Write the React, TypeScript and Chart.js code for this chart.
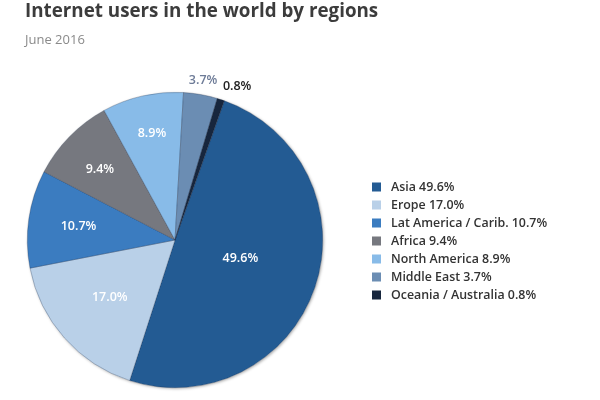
import React, { useEffect, useRef } from "react";
import { Chart, registerables } from "chart.js";

Chart.register(...registerables);

const regions = [
  "Asia",
  "Erope",
  "Lat America / Carib.",
  "Africa",
  "North America",
  "Middle East",
  "Oceania / Australia",
];
const shares = [49.6, 17.0, 10.7, 9.4, 8.9, 3.7, 0.8];
const colors = ["#235b93", "#b9d0e8", "#3b7cc0", "#76787f", "#88bbe8", "#6b8db3", "#17263d"];
const titleText = "Internet users in the world by regions";
const subtitleText = "June 2016";

// label styling (positions relative to radius, colours)
const labelRadius = [0.46, 0.59, 0.66, 0.7, 0.74, 1.1, 1.12];
const labelAngleNudge = [-3, 0, 0, -1, 0.5, 0, 4];
const labelColors = ["#ffffff", "#ffffff", "#ffffff", "#ffffff", "#ffffff", "#6d7b97", "#222222"];

const FONT = "'Open Sans', 'DejaVu Sans', sans-serif";

const decorPlugin = {
  id: "decor",
  beforeDatasetsDraw(chart: any) {
    const ctx = chart.ctx;
    ctx.save();
    ctx.shadowColor = "rgba(0,0,0,0.35)";
    ctx.shadowBlur = 3;
    ctx.shadowOffsetX = 1;
    ctx.shadowOffsetY = 1;
    const meta = chart.getDatasetMeta(0);
    const a0 = meta.data[0];
    ctx.beginPath();
    ctx.arc(a0.x, a0.y, a0.outerRadius, 0, Math.PI * 2);
    ctx.fillStyle = "#ffffff";
    ctx.fill();
    ctx.restore();
  },
  afterDatasetsDraw(chart: any) {
    const ctx = chart.ctx;
    const meta = chart.getDatasetMeta(0);
    const values = chart.data.datasets[0].data as number[];
    ctx.save();
    ctx.textAlign = "center";
    ctx.textBaseline = "middle";
    meta.data.forEach((arc: any, i: number) => {
      const mid = (arc.startAngle + arc.endAngle) / 2 + (labelAngleNudge[i] * Math.PI) / 180;
      const r = arc.outerRadius * labelRadius[i];
      const x = arc.x + Math.cos(mid) * r;
      const y = arc.y + Math.sin(mid) * r;
      ctx.font = `600 12.5px ${FONT}`;
      ctx.fillStyle = labelColors[i];
      ctx.fillText(values[i].toFixed(1) + "%", x, y);
    });

    // title + subtitle
    ctx.textAlign = "left";
    ctx.textBaseline = "alphabetic";
    ctx.font = `bold 18.8px ${FONT}`;
    ctx.fillStyle = "#3c3c3c";
    ctx.fillText(titleText, 25, 17);
    ctx.font = `13px ${FONT}`;
    ctx.fillStyle = "#8a8a8a";
    ctx.fillText(subtitleText, 25, 44);

    // legend
    const labels = chart.data.labels as string[];
    const bg = chart.data.datasets[0].backgroundColor as string[];
    ctx.font = `600 12.4px ${FONT}`;
    ctx.textBaseline = "middle";
    labels.forEach((lab, i) => {
      const cy = 187 + i * 18;
      ctx.fillStyle = bg[i];
      ctx.fillRect(372, cy - 4.5, 9, 9);
      ctx.fillStyle = "#333333";
      ctx.fillText(`${lab} ${values[i].toFixed(1)}%`, 391, cy);
    });
    ctx.restore();
  },
};

export default function App() {
  const ref = useRef<HTMLCanvasElement | null>(null);
  useEffect(() => {
    document.body.style.margin = "0";
    const chart = new Chart(ref.current as HTMLCanvasElement, {
      type: "pie",
      data: {
        labels: regions,
        datasets: [
          {
            data: shares,
            backgroundColor: colors,
            borderColor: "rgba(20,35,60,0.45)",
            borderWidth: 0.6,
          },
        ],
      },
      options: {
        animation: false,
        responsive: false,
        rotation: 19.5,
        layout: { padding: { left: 27, right: 277, top: 92, bottom: 12 } },
        plugins: {
          legend: { display: false },
          tooltip: { enabled: false },
          title: { display: false },
        },
      },
      plugins: [decorPlugin],
    });
    return () => chart.destroy();
  }, []);
  return (
    <div style={{ width: 600, height: 400, background: "#ffffff" }}>
      <canvas ref={ref} width={600} height={400} style={{ display: "block" }} />
    </div>
  );
}
